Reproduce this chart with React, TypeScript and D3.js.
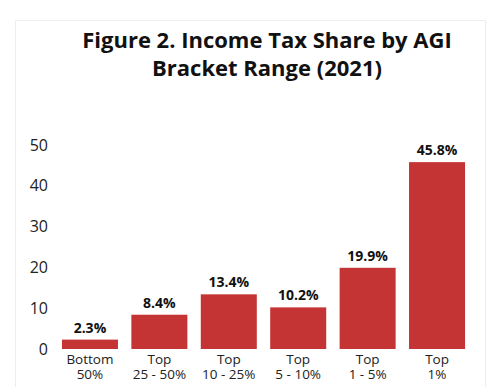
import React, { useEffect, useRef } from "react";
import * as d3 from "d3";

const categories: string[][] = [
  ["Bottom", "50%"],
  ["Top", "25 - 50%"],
  ["Top", "10 - 25%"],
  ["Top", "5 - 10%"],
  ["Top", "1 - 5%"],
  ["Top", "1%"],
];
const shares: number[] = [2.3, 8.4, 13.4, 10.2, 19.9, 45.8];
const yTicks: number[] = [0, 10, 20, 30, 40, 50];
const titleLines: string[] = ["Figure 2. Income Tax Share by AGI", "Bracket Range (2021)"];

const App: React.FC = () => {
  const svgRef = useRef<SVGSVGElement | null>(null);

  useEffect(() => {
    const svg = d3.select(svgRef.current);
    svg.selectAll("*").remove();
    const height = 387;
    const font = "'Open Sans', sans-serif";

    // faint card outline
    svg.append("path")
      .attr("d", `M15.5,${height} V20.5 H485.5 V${height}`)
      .attr("fill", "none")
      .attr("stroke", "#ededed")
      .attr("stroke-width", 1);

    svg.append("text")
      .attr("x", 267)
      .attr("text-anchor", "middle")
      .style("font-family", font)
      .style("font-weight", "700")
      .style("font-size", "22px")
      .attr("fill", "#111")
      .selectAll("tspan")
      .data(titleLines)
      .join("tspan")
      .attr("x", 267)
      .attr("y", (_, i) => 48 + i * 28)
      .text((d) => d);

    const x = d3.scaleBand<number>()
      .domain(d3.range(shares.length))
      .range([55, 472])
      .paddingInner(0.193)
      .paddingOuter(0.1);

    const y = d3.scaleLinear().domain([0, 50]).range([349, 145]);

    // y tick labels, no axis line
    svg.append("g")
      .selectAll("text")
      .data(yTicks)
      .join("text")
      .attr("x", 48)
      .attr("y", (d) => y(d))
      .attr("dy", "0.35em")
      .attr("text-anchor", "end")
      .style("font-family", font)
      .style("font-size", "16px")
      .attr("fill", "#222")
      .text((d) => d);

    svg.append("g")
      .selectAll("rect")
      .data(shares)
      .join("rect")
      .attr("x", (_, i) => x(i)!)
      .attr("y", (d) => y(d))
      .attr("width", x.bandwidth())
      .attr("height", (d) => y(0) - y(d))
      .attr("fill", "#c53434");

    svg.append("g")
      .selectAll("text")
      .data(shares)
      .join("text")
      .attr("x", (_, i) => x(i)! + x.bandwidth() / 2)
      .attr("y", (d) => y(d) - 7)
      .attr("text-anchor", "middle")
      .style("font-family", font)
      .style("font-weight", "700")
      .style("font-size", "14px")
      .attr("fill", "#111")
      .text((d) => `${d.toFixed(1)}%`);

    const cat = svg.append("g")
      .selectAll("text")
      .data(categories)
      .join("text")
      .attr("text-anchor", "middle")
      .style("font-family", font)
      .style("font-size", "13.5px")
      .attr("fill", "#222");

    cat.selectAll("tspan")
      .data((d, i) => d.map((t) => ({ t, i })))
      .join("tspan")
      .attr("x", (d) => x(d.i)! + x.bandwidth() / 2)
      .attr("y", (_, j) => 364 + j * 15)
      .text((d) => d.t);
  }, []);

  return (
    <svg
      ref={svgRef}
      width={500}
      height={387}
      style={{ display: "block", position: "absolute", left: 0, top: 0, background: "white" }}
    />
  );
};

export default App;
